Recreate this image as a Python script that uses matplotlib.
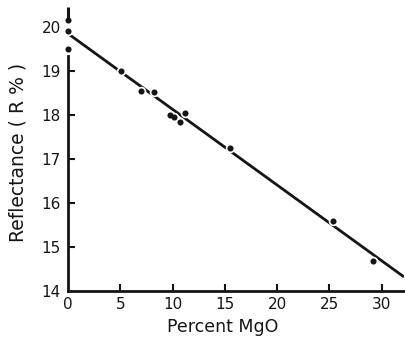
import matplotlib
matplotlib.use("Agg")
import matplotlib.pyplot as plt

# Data
mgo = [0, 0, 0, 5.1, 7.0, 8.2, 9.8, 10.1, 10.7, 11.2, 15.5, 25.4, 29.2]
refl = [20.15, 19.9, 19.5, 19.0, 18.55, 18.53, 18.0, 17.95, 17.83, 18.04, 17.24, 15.58, 14.69]
top_mark_x = [0]
top_mark_y = [20.32]
fit_x = [0, 32.15]
fit_y = [19.85, 14.32]

xticks = [0, 5, 10, 15, 20, 25, 30]
yticks = [14, 15, 16, 17, 18, 19, 20]

fig = plt.figure(figsize=(4.06, 3.37), dpi=100)
ax = fig.add_axes([68/406, (337-291)/337, (404-68)/406, (291-5)/337])
ink = "#151515"

ax.plot(fit_x, fit_y, color=ink, lw=2.0, solid_capstyle="butt", zorder=2)
ax.plot(mgo, refl, linestyle="none", marker="o", ms=4.6, color=ink,
        markeredgecolor="white", markeredgewidth=2.2, zorder=3, clip_on=False)
ax.plot(mgo, refl, linestyle="none", marker="o", ms=4.4, color=ink,
        markeredgewidth=0, zorder=4, clip_on=False)
ax.plot(top_mark_x, top_mark_y, linestyle="none", marker="|", ms=9, mew=2.2,
        color=ink, clip_on=False, zorder=4)

ax.set_xlim(0, 32.15)
ax.set_ylim(14, 20.5)
ax.set_xticks(xticks)
ax.set_yticks(yticks)
for s in ["top", "right"]:
    ax.spines[s].set_visible(False)
ax.spines["left"].set_bounds(14, 19.35)
for s in ["left", "bottom"]:
    ax.spines[s].set_linewidth(2.0)
    ax.spines[s].set_color(ink)
ax.tick_params(direction="in", length=5, width=1.5, color=ink,
               labelsize=11, labelcolor=ink, pad=4)
ax.tick_params(axis="y", pad=5)
ax.yaxis.get_major_ticks()[-1].tick1line.set_visible(False)
ax.xaxis.get_major_ticks()[0].tick1line.set_visible(False)
ax.yaxis.get_major_ticks()[0].tick1line.set_visible(False)
ax.set_xlabel("Percent MgO", fontsize=12.5, color=ink)
ax.set_ylabel("Reflectance ( R % )", fontsize=13.5, color=ink)
ax.xaxis.set_label_coords((223-68)/336, -0.095)
ax.yaxis.set_label_coords((28-68)/336, 0.486)
ax.patch.set_alpha(0)

fig.savefig("out.png", dpi=100, facecolor="white")
